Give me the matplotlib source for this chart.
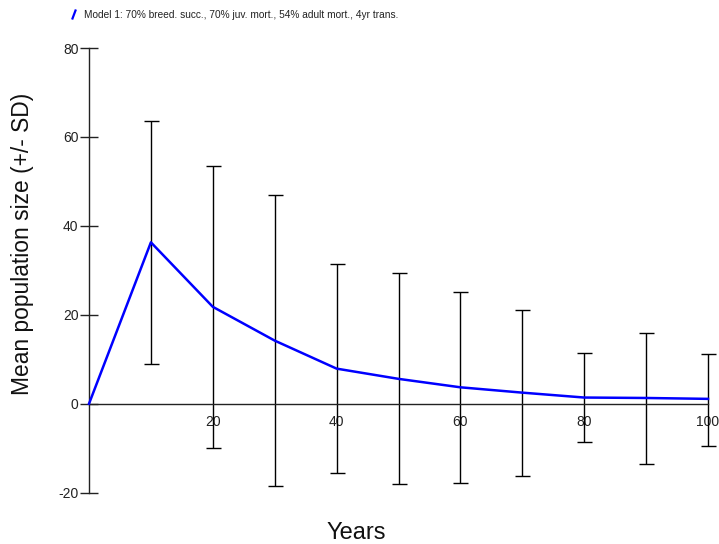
import matplotlib
matplotlib.use("Agg")
import matplotlib.pyplot as plt
from matplotlib.lines import Line2D
import numpy as np

plt.rcParams["axes.unicode_minus"] = False

years = [0, 10, 20, 30, 40, 50, 60, 70, 80, 90, 100]
mean_pop = [0.0, 36.3, 21.8, 14.2, 7.9, 5.6, 3.7, 2.5, 1.4, 1.3, 1.1]
upper_sd = [0.0, 63.6, 53.5, 46.9, 31.5, 29.4, 25.2, 21.1, 11.4, 16.0, 11.1]
lower_sd = [0.0, 9.0, -10.0, -18.4, -15.5, -18.0, -17.8, -16.3, -8.7, -13.5, -9.4]
x_ticks = [20, 40, 60, 80, 100]
y_ticks = [-20, 0, 20, 40, 60, 80]
legend_label = "Model 1: 70% breed. succ., 70% juv. mort., 54% adult mort., 4yr trans."

W, H = 719, 544
fig = plt.figure(figsize=(W / 100, H / 100), dpi=100)
ax = fig.add_axes([89 / W, 1 - 492.7 / H, (708 - 89) / W, (492.7 - 48) / H])

m = np.array(mean_pop)
up = np.array(upper_sd)
lo = np.array(lower_sd)
yerr = np.vstack([m[1:] - lo[1:], up[1:] - m[1:]])
eb = ax.errorbar(years[1:], m[1:], yerr=yerr, fmt="none", ecolor="black",
                 elinewidth=1.0, capsize=5.4, capthick=1.0, zorder=2)
for art in eb.lines[1] + eb.lines[2]:
    art.set_clip_on(False)
for art in eb.lines[2]:
    art.set_clip_on(False)
ax.plot(years, mean_pop, color="#0000ff", lw=1.8, zorder=3, clip_on=False)

ax.set_xlim(0, 100)
ax.set_ylim(-20, 80)
ax.spines["top"].set_visible(False)
ax.spines["right"].set_visible(False)
ax.spines["left"].set_position(("data", 0))
ax.spines["bottom"].set_position(("data", 0))
for s in ("left", "bottom"):
    ax.spines[s].set_color("#222222")
    ax.spines[s].set_linewidth(1.0)

ax.set_xticks(x_ticks)
ax.set_yticks(y_ticks)
ax.tick_params(axis="x", length=0, pad=8, labelsize=10, labelcolor="#222222")
ax.tick_params(axis="y", direction="inout", length=13, width=1.0, color="#222222",
               pad=1, labelsize=10, labelcolor="#222222")
for lab in ax.get_xticklabels() + ax.get_yticklabels():
    lab.set_family("Liberation Sans")

fig.text(356 / W, 1 - 522 / H, "Years", ha="center", va="top",
         fontsize=17, family="Liberation Sans", color="#111111")
fig.text(22.5 / W, 1 - 244 / H, "Mean population size (+/- SD)", ha="center",
         va="center", rotation=90, fontsize=16.4, family="Liberation Sans",
         color="#111111")

fig.add_artist(Line2D([72.5 / W, 75.5 / W], [1 - 18.5 / H, 1 - 10.5 / H],
                      color="#0000ff", lw=1.6, transform=fig.transFigure))
fig.text(84 / W, 1 - 14.5 / H, legend_label, ha="left", va="center",
         fontsize=7.3, family="Liberation Sans", color="#222222")

fig.savefig("out.png", dpi=100)
